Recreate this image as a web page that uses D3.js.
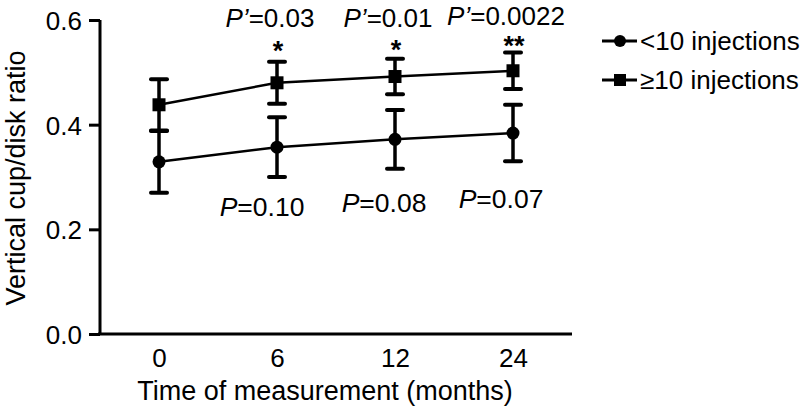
<!DOCTYPE html>
<html>
<head>
<meta charset="utf-8">
<script src="https://cdn.jsdelivr.net/npm/d3@7"></script>
<style>
  body { margin: 0; background: #fff; }
  text { font-family: "Liberation Sans", Arial, sans-serif; fill: #000; }
</style>
</head>
<body>
<div id="chart-area"></div>
<script>
const months = ["0", "6", "12", "24"];
const lowMeans = [0.329, 0.357, 0.372, 0.384];
const lowErr = [0.059, 0.057, 0.056, 0.054];
const highMeans = [0.438, 0.480, 0.492, 0.503];
const highErr = [0.049, 0.040, 0.034, 0.035];
const yTicks = [0.0, 0.2, 0.4, 0.6];
const pPrimeLabels = ["", "0.03", "0.01", "0.0022"];
const stars = ["", "*", "*", "**"];
const pLabels = ["", "0.10", "0.08", "0.07"];
const seriesNames = ["<10 injections", "\u226510 injections"];

const drawChart = () => {
  const svg = d3.select("#chart-area")
    .append("svg")
    .attr("width", 810)
    .attr("height", 409);

  const x = d3.scalePoint()
    .domain(months)
    .range([100, 572])
    .padding(0.5);

  const y = d3.scaleLinear()
    .domain([0, 0.6])
    .range([334, 20]);

  const yAxis = d3.axisLeft(y)
    .tickValues(yTicks)
    .tickFormat(d3.format(".1f"))
    .tickSize(11)
    .tickPadding(7);

  const xAxis = d3.axisBottom(x)
    .tickSize(0)
    .tickPadding(15);

  const gy = svg.append("g")
    .attr("transform", "translate(100,0)")
    .call(yAxis);
  gy.select(".domain").attr("stroke-width", 3).attr("d", "M0,20V334");
  gy.selectAll(".tick line").attr("stroke-width", 3);
  gy.selectAll(".tick text").attr("font-size", 26).attr("dy", "0.36em");

  const gx = svg.append("g")
    .attr("transform", "translate(0,334)")
    .call(xAxis);
  gx.select(".domain").attr("stroke-width", 3).attr("d", "M98,0H572");
  gx.selectAll(".tick text").attr("font-size", 26);

  svg.append("text")
    .attr("transform", "translate(25,178) rotate(-90)")
    .attr("text-anchor", "middle")
    .attr("font-size", 27)
    .text("Vertical cup/disk ratio");

  svg.append("text")
    .attr("x", 325)
    .attr("y", 400)
    .attr("text-anchor", "middle")
    .attr("font-size", 27)
    .text("Time of measurement (months)");

  const line = d3.line()
    .x((d, i) => x(months[i]))
    .y(d => y(d));

  const series = [
    { means: lowMeans, err: lowErr, shape: "circle" },
    { means: highMeans, err: highErr, shape: "square" }
  ];

  series.forEach(s => {
    svg.append("path")
      .datum(s.means)
      .attr("fill", "none")
      .attr("stroke", "#000")
      .attr("stroke-width", 2.5)
      .attr("d", line);

    const eb = svg.append("g").selectAll("g")
      .data(s.means)
      .enter()
      .append("g");

    eb.append("line")
      .attr("x1", (d, i) => x(months[i]))
      .attr("x2", (d, i) => x(months[i]))
      .attr("y1", (d, i) => y(d + s.err[i]))
      .attr("y2", (d, i) => y(d - s.err[i]))
      .attr("stroke", "#000")
      .attr("stroke-width", 3.5);

    [1, -1].forEach(sign => {
      eb.append("line")
        .attr("x1", (d, i) => x(months[i]) - 8)
        .attr("x2", (d, i) => x(months[i]) + 8)
        .attr("y1", (d, i) => y(d + sign * s.err[i]))
        .attr("y2", (d, i) => y(d + sign * s.err[i]))
        .attr("stroke", "#000")
        .attr("stroke-width", 4)
        .attr("stroke-linecap", "round");
    });

    if (s.shape === "circle") {
      eb.append("circle")
        .attr("cx", (d, i) => x(months[i]))
        .attr("cy", d => y(d))
        .attr("r", 6.5)
        .attr("fill", "#000");
    } else {
      eb.append("rect")
        .attr("x", (d, i) => x(months[i]) - 6.5)
        .attr("y", d => y(d) - 6.5)
        .attr("width", 13)
        .attr("height", 13)
        .attr("fill", "#000");
    }
  });

  // P' labels above
  const top = svg.append("g").selectAll("text")
    .data(months.filter((m, i) => pPrimeLabels[i]))
    .enter()
    .append("text")
    .attr("x", m => x(m) - 7)
    .attr("y", (m, i) => [27, 27, 25][i])
    .attr("text-anchor", "middle")
    .attr("font-size", 26);
  top.append("tspan").attr("font-style", "italic").text("P\u2019");
  top.append("tspan").text(m => "=" + pPrimeLabels[months.indexOf(m)]);

  svg.append("g").selectAll("text")
    .data(months.filter((m, i) => stars[i]))
    .enter()
    .append("text")
    .attr("x", m => x(m) + 1)
    .attr("y", (m, i) => [60, 59, 55][i])
    .attr("text-anchor", "middle")
    .attr("font-size", 27)
    .attr("font-weight", "bold")
    .text(m => stars[months.indexOf(m)]);

  // P labels below
  const bottom = svg.append("g").selectAll("text")
    .data(months.filter((m, i) => pLabels[i]))
    .enter()
    .append("text")
    .attr("x", (m, i) => x(m) - [15, 11, 12][i])
    .attr("y", (m, i) => [216, 212, 208][i])
    .attr("text-anchor", "middle")
    .attr("font-size", 26.5);
  bottom.append("tspan").attr("font-style", "italic").text("P");
  bottom.append("tspan").text(m => "=" + pLabels[months.indexOf(m)]);

  // legend
  const legend = svg.append("g").selectAll("g")
    .data(seriesNames)
    .enter()
    .append("g")
    .attr("transform", (d, i) => `translate(602,${41 + i * 39})`);

  legend.append("line")
    .attr("x1", 0)
    .attr("x2", 35)
    .attr("stroke", "#000")
    .attr("stroke-width", 3);

  legend.filter((d, i) => i === 0)
    .append("circle")
    .attr("cx", 18)
    .attr("r", 6)
    .attr("fill", "#000");

  legend.filter((d, i) => i === 1)
    .append("rect")
    .attr("x", 12)
    .attr("y", -6)
    .attr("width", 12)
    .attr("height", 12)
    .attr("fill", "#000");

  legend.append("text")
    .attr("x", 38)
    .attr("y", 0)
    .attr("dy", "0.36em")
    .attr("font-size", 26)
    .text(d => d);
};

window.onload = drawChart;
</script>
</body>
</html>
